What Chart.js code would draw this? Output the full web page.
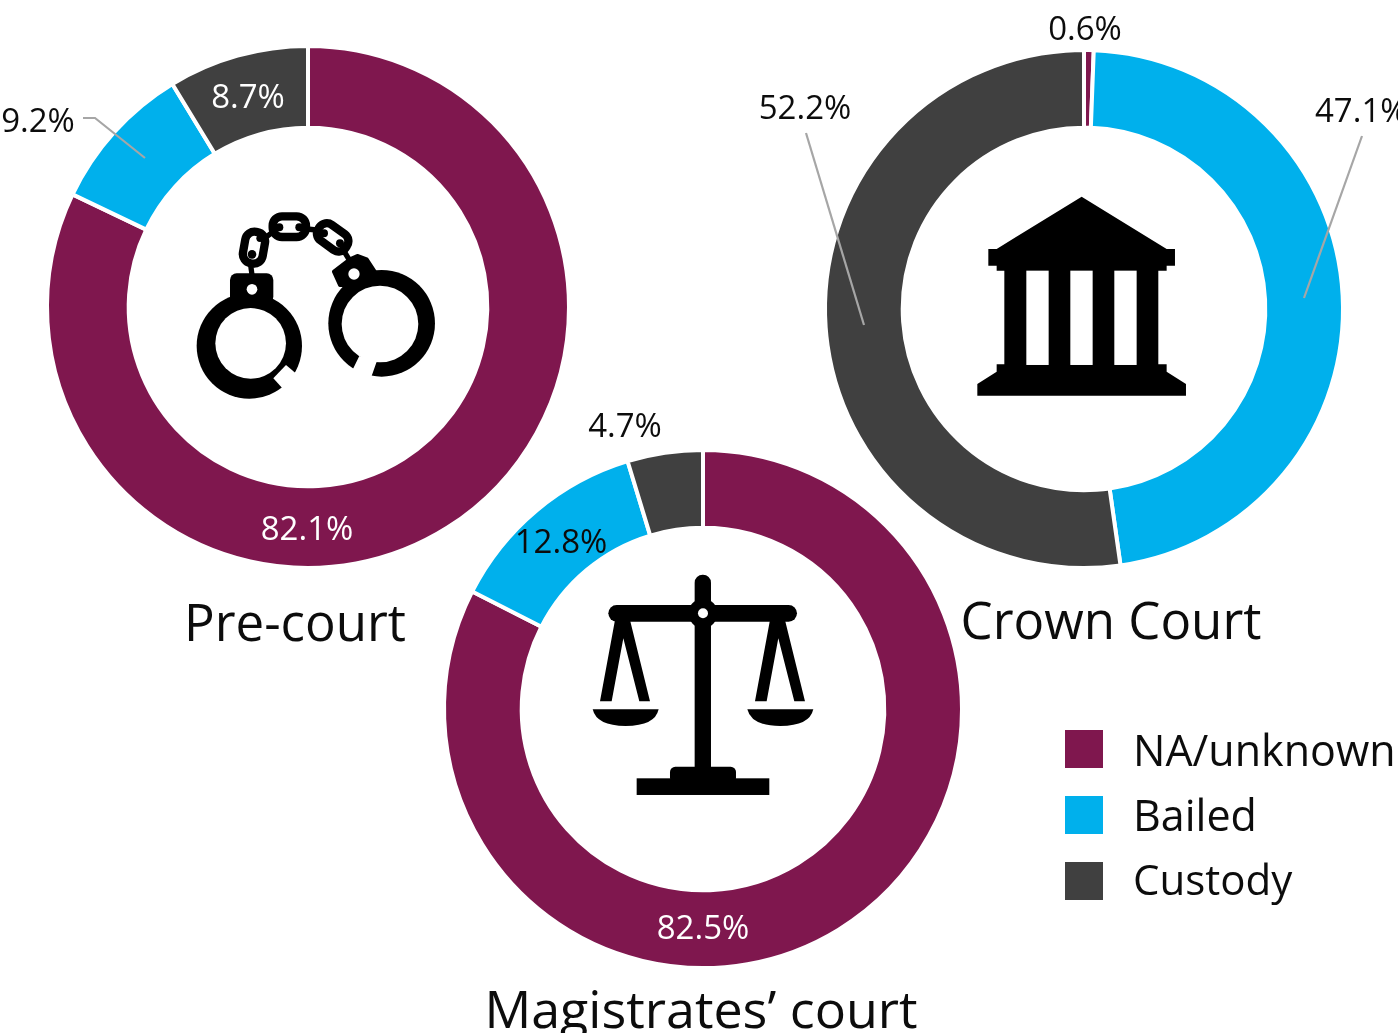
<!DOCTYPE html>
<html><head><meta charset="utf-8">
<script src="https://cdn.jsdelivr.net/npm/chart.js@4/dist/chart.umd.min.js"></script>
<style>
html,body{margin:0;padding:0;background:#fff}
#stage{position:relative;width:1398px;height:1033px;overflow:hidden;font-family:"Open Sans",sans-serif;color:#0c0c0c}
.wrap{position:absolute;width:560px;height:560px}
svg{position:absolute;left:0;top:0}
.t{position:absolute;transform:translate(-50%,-50%);white-space:nowrap;line-height:1}
.l{position:absolute;transform:translateY(-50%);white-space:nowrap;line-height:1}
.sw{position:absolute;width:38px;height:38px}
</style></head><body>
<div id="stage">
<div class="wrap" style="left:28px;top:27px"><canvas id="c1" width="560" height="560"></canvas></div>
<div class="wrap" style="left:804px;top:29px"><canvas id="c2" width="560" height="560"></canvas></div>
<div class="wrap" style="left:423px;top:429px"><canvas id="c3" width="560" height="560"></canvas></div>
<svg width="1398" height="1033" viewBox="0 0 1398 1033">
 <g fill="none" stroke="#A6A6A6" stroke-width="2.2">
  <polyline points="83,118 95,118 145,158"/>
  <polyline points="806,133 864,325"/>
  <polyline points="1362,136 1304,298"/>
 </g>
 <!-- handcuffs -->
 <g transform="translate(180,190) scale(0.3333)">
  <circle cx="208" cy="468" r="158" fill="#000"/><circle cx="212" cy="460" r="106" fill="#fff"/>
  <polygon points="318,525 350,552 350,620 312,600 280,565" fill="#fff"/>
  <rect x="150" y="250" width="130" height="90" rx="20" fill="#000"/><circle cx="216" cy="298" r="16" fill="#fff"/>
  <circle cx="605" cy="400" r="160" fill="#000"/><circle cx="600" cy="402" r="115" fill="#fff"/>
  <polygon points="538,498 590,515 570,572 565,600 500,570 520,535" fill="#fff"/>
  <polygon points="462,245 510,208 532,198 560,208 584,245 560,285 480,285" fill="#000" stroke="#000" stroke-width="12" stroke-linejoin="round"/><circle cx="522" cy="252" r="17" fill="#fff"/>
 </g>
 <!-- chain -->
 <g transform="translate(230,205) scale(0.3333)">
  <g fill="none" stroke="#000" stroke-width="25">
   <rect x="-30" y="-48" width="60" height="96" rx="28" transform="translate(72,128) rotate(10)"/>
   <rect x="-50" y="-31" width="100" height="62" rx="28" transform="translate(178,65)"/>
   <rect x="-50" y="-29" width="100" height="58" rx="26" transform="translate(308,97) rotate(36)"/>
  </g>
  <g stroke="#000" stroke-width="16" fill="none">
   <line x1="62" y1="180" x2="66" y2="210"/>
   <line x1="110" y1="95" x2="130" y2="80"/>
   <line x1="230" y1="72" x2="260" y2="75"/>
   <line x1="343" y1="140" x2="358" y2="165"/>
  </g>
  <g fill="#000">
   <circle cx="66" cy="148" r="13"/><circle cx="90" cy="100" r="11"/>
   <circle cx="148" cy="67" r="12"/><circle cx="208" cy="67" r="12"/>
   <circle cx="282" cy="85" r="12"/><circle cx="330" cy="115" r="12"/>
  </g>
 </g>
 <!-- court building -->
 <g transform="translate(960,180) scale(0.3333)">
  <polygon fill="#000" points="365,50 620,207 645,207 645,257 620,257 620,272 595,272 595,553 620,553 620,575 678,612 678,647 52,647 52,612 110,575 110,553 133,553 133,272 110,272 110,257 85,257 85,207 110,207"/>
  <rect x="199" y="272" width="67" height="283" fill="#fff"/>
  <rect x="331" y="272" width="67" height="283" fill="#fff"/>
  <rect x="463" y="272" width="67" height="283" fill="#fff"/>
 </g>
 <!-- scales -->
 <g transform="translate(580,560) scale(0.3333)" fill="#000">
  <rect x="344" y="44" width="49" height="600" rx="24"/>
  <rect x="85" y="135" width="566" height="50" rx="25"/>
  <circle cx="369" cy="160" r="44"/><circle cx="369" cy="160" r="15" fill="#fff"/>
  <rect x="170" y="655" width="398" height="50"/>
  <rect x="270" y="620" width="198" height="50" rx="16"/>
  <polygon points="105,180 150,180 210,424 178,424 130,235 95,424 60,424"/>
  <polygon points="570,180 615,180 675,424 643,424 595,235 560,424 525,424"/>
  <path d="M38,448 L236,448 Q225,498 137,498 Q50,498 38,448Z"/>
  <path d="M502,448 L700,448 Q689,498 601,498 Q514,498 502,448Z"/>
 </g>
</svg>
</div>
<script>
const categories=["NA/unknown","Bailed","Custody"];
const colours=["#7F174E","#00B0EC","#404040"];
const preCourt=[82.1,9.2,8.7];
const crownCourt=[0.6,47.1,52.2];
const magistrates=[82.5,12.8,4.7];
const titles=["Pre-court","Crown Court","Magistrates’ court"];
function donut(id,values,outer,cut){
  new Chart(document.getElementById(id),{
    type:"doughnut",
    data:{labels:categories,datasets:[{data:values,backgroundColor:colours,borderColor:"#fff",borderWidth:4}]},
    options:{responsive:false,animation:false,radius:outer,cutout:cut,
      layout:{padding:0},plugins:{legend:{display:false},tooltip:{enabled:false}}}
  });
}
donut("c1",preCourt,261,"68.7%");
donut("c2",crownCourt,259,"70%");
donut("c3",magistrates,259,"70%");
const stage=document.getElementById("stage");
function addText(txt,x,y,size,colour,cls){
  const d=document.createElement("div");
  d.className=cls||"t";d.textContent=txt;
  d.style.left=x+"px";d.style.top=y+"px";d.style.fontSize=size+"px";
  if(colour)d.style.color=colour;
  stage.appendChild(d);
}
const pct=v=>v.toFixed(1)+"%";
const LS=33;
addText(pct(preCourt[0]),307,527,LS,"#fff");
addText(pct(preCourt[1]),38,119,LS);
addText(pct(preCourt[2]),248,95,LS,"#fff");
addText(pct(crownCourt[0]),1085,27,LS);
addText(pct(crownCourt[1]),1315,109,LS,null,"l");
addText(pct(crownCourt[2]),805,106,LS);
addText(pct(magistrates[0]),703,926,LS,"#fff");
addText(pct(magistrates[1]),561,540,LS);
addText(pct(magistrates[2]),625,424,LS);
addText(titles[0],295,621,51);
addText(titles[1],1111,619,51);
addText(titles[2],701,1008,52);
const ly=[749,815,881], ty=[749,814,879];
categories.forEach((c,i)=>{
  const s=document.createElement("div");s.className="sw";
  s.style.left="1065px";s.style.top=(ly[i]-19)+"px";s.style.background=colours[i];
  stage.appendChild(s);
  addText(c,1133,ty[i],i==2?42:43,null,"l");
});
</script>
</body></html>
